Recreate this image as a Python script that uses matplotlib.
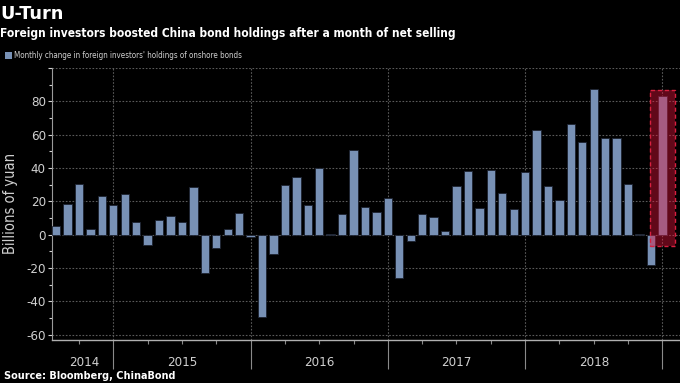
# Foreign holdings of onshore China bonds, monthly change
import matplotlib
matplotlib.use('Agg')
import numpy as np
from matplotlib import pyplot as plt
from matplotlib.patches import Rectangle
from matplotlib.transforms import blended_transform_factory

# monthly change, Jul 2014 .. Dec 2018 (billions of yuan)
v2014 = [5.2, 18.4, 30.6, 3.4, 23.4, 18.0]
v2015 = [24.2, 7.8, -6.0, 9.0, 11.0, 7.8, 28.6, -22.8, -7.8, 3.5, 13.0, -1.4]
v2016 = [-49.6, -11.8, 29.6, 34.8, 17.6, 40.2, 0.3, 12.2, 50.8, 16.8, 13.8, 21.8]
v2017 = [-25.8, -3.6, 12.2, 10.6, 2.4, 29.0, 38.0, 16.2, 39.0, 25.2, 15.4, 37.4]
v2018 = [63.0, 29.0, 20.8, 66.6, 55.6, 87.2, 58.2, 57.8, 30.2, 0.5, -18.2, 83.0]
values = v2014 + v2015 + v2016 + v2017 + v2018

years = ['2014', '2015', '2016', '2017', '2018']
legend_label = "Monthly change in foreign investors' holdings of onshore bonds"

BG = 'black'
BAR = '#7891b5'
GRID = '#5a5a5a'
TXT = '#d0d0d0'
COND = 'condensed'

fig = plt.figure(figsize=(6.8, 3.83), dpi=100, facecolor=BG)
ax = fig.add_axes([52/680, 1-339.5/383, 1-52/680, (339.5-68)/383])
ax.set_facecolor(BG)

x = np.arange(len(values))
ax.bar(x, values, width=0.73, color=BAR, edgecolor='#1c2230', linewidth=0.6, zorder=3)

# highlight of the latest month
last = len(values) - 1
ax.add_patch(Rectangle((last - 1.07, -7), 2.15, 94, facecolor='#e8143c', alpha=0.42,
                       edgecolor='none', zorder=4))
ax.add_patch(Rectangle((last - 1.07, -7), 2.15, 94, facecolor='none', edgecolor='#d8203f',
                       linestyle=(0, (3, 2)), linewidth=1.0, zorder=5))

ax.set_xlim(-0.36, 54.54)
ax.set_ylim(-63, 100)

# x axis: year boundaries (major) and quarters (minor)
year_edges = [5, 17, 29, 41, 53]
ax.set_xticks(year_edges)
ax.set_xticks([i for i in range(-1, 55, 3) if i not in year_edges and i > -0.36], minor=True)
ax.tick_params(axis='x', which='major', length=21, width=0.8, color='#8a8a8a', labelbottom=False)
ax.tick_params(axis='x', which='minor', length=3, width=0.8, color='#8a8a8a')
trans = blended_transform_factory(ax.transData, ax.transAxes)
for lab, xc in zip(years, [2.5, 11, 23, 35, 47]):
    ax.text(xc, -0.085, lab, transform=trans, ha='center', va='center', color=TXT,
            fontsize=9.5, fontstretch=COND)

# y axis
ax.set_yticks(range(-60, 101, 20))
ax.set_yticklabels([str(t) if t < 100 else '' for t in range(-60, 101, 20)])
ax.set_yticks(range(-50, 100, 20), minor=True)
ax.tick_params(axis='y', which='major', length=3, width=0.8, color=TXT, labelcolor=TXT,
               labelsize=9.5, pad=1.5)
ax.tick_params(axis='y', which='minor', length=2, width=0.8, color=TXT)
for lab in ax.get_yticklabels():
    lab.set_fontstretch(COND)
ax.set_ylabel('Billions of yuan', color=TXT, fontsize=10.5, fontstretch=COND, labelpad=6)

ax.grid(True, which='major', color=GRID, linestyle=(0, (1.5, 1.5)), linewidth=0.8, zorder=0)

for s in ['top', 'right']:
    ax.spines[s].set_visible(False)
ax.spines['left'].set_color('#9a9a9a')
ax.spines['bottom'].set_color('#b0b0b0')
ax.spines['left'].set_linewidth(0.8)
ax.spines['bottom'].set_linewidth(1.0)

# titles, legend and source
fig.text(0.0, 1-14/383, 'U-Turn', color='white', fontsize=12.8, fontweight='bold',
         va='center', ha='left')
fig.text(0.0, 1-34/383, 'Foreign investors boosted China bond holdings after a month of net selling',
         color='white', fontsize=8.6, fontweight='bold', fontstretch=COND, va='center', ha='left')
fig.patches.append(Rectangle((5/680, 1-59/383), 7/680, 7/383, transform=fig.transFigure,
                             facecolor=BAR, edgecolor='none'))
fig.text(14/680, 1-55.5/383, legend_label, color=TXT, fontsize=5.8, fontstretch=COND,
         va='center', ha='left')
fig.text(4/680, 1-376/383, 'Source: Bloomberg, ChinaBond', color='white', fontsize=7.0,
         fontweight='bold', va='center', ha='left')

fig.savefig('out.png', dpi=100, facecolor=BG)
